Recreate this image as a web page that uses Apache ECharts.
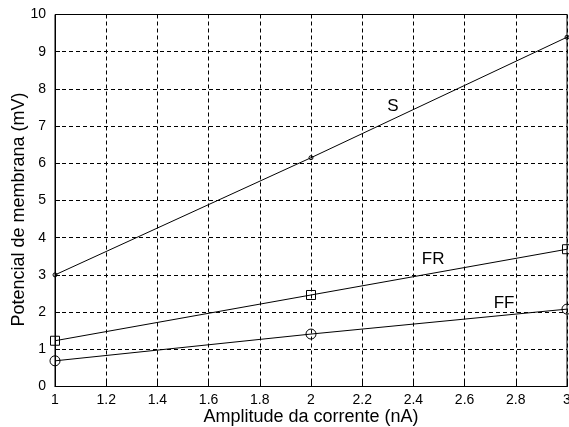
<!DOCTYPE html>
<html>
<head>
<meta charset="utf-8">
<script src="https://cdn.jsdelivr.net/npm/echarts@6/dist/echarts.min.js"></script>
<style>
  html, body { margin: 0; padding: 0; background: #fff; }
  #chart { width: 569px; height: 427px; }
</style>
</head>
<body>
<div id="chart"></div>
<script>
// Current amplitude (nA) at which membrane potential was measured
const amplitudes = [1, 2, 3];
// Membrane potential (mV) for each motor unit type
const potS  = [3.0, 6.15, 9.39];
const potFR = [1.23, 2.46, 3.69];
const potFF = [0.69, 1.41, 2.08];
// Where each curve's name is written (data coordinates)
const labelS  = [2.32, 7.54];
const labelFR = [2.477, 3.43];
const labelFF = [2.754, 2.24];

const FONT = 'Liberation Sans, Arial, sans-serif';

function pairs(ys) { return amplitudes.map((x, i) => [x, ys[i]]); }

function nameMark(name, pos) {
  return {
    symbol: 'rect',
    symbolSize: 1,
    silent: true,
    itemStyle: { color: 'rgba(0,0,0,0)', borderWidth: 0 },
    data: [{ coord: pos }],
    label: {
      show: true, position: 'inside', formatter: name,
      color: '#000', fontFamily: FONT, fontSize: 17
    }
  };
}

function curve(name, ys, symbol, size, pos) {
  return {
    name: name,
    type: 'line',
    data: pairs(ys),
    symbol: symbol,
    symbolSize: size,
    showAllSymbol: true,
    lineStyle: { color: '#000', width: 1 },
    itemStyle: { color: 'rgba(0,0,0,0)', borderColor: '#000', borderWidth: 1 },
    emphasis: { disabled: true },
    animation: false,
    clip: false,
    markPoint: nameMark(name, pos),
    z: 3
  };
}

const chart = echarts.init(document.getElementById('chart'), null, { renderer: 'canvas' });
chart.setOption({
  backgroundColor: '#fff',
  animation: false,
  grid: {
    left: 55, right: 2, top: 14.5, bottom: 40.5,
    containLabel: false, outerBoundsMode: 'none',
    show: true, borderColor: '#000', borderWidth: 1, backgroundColor: 'transparent'
  },
  xAxis: {
    type: 'value', min: 1, max: 3, interval: 0.2,
    name: 'Amplitude da corrente (nA)',
    nameLocation: 'middle', nameGap: 22, nameMoveOverlap: false,
    nameTextStyle: { color: '#000', fontFamily: FONT, fontSize: 18 },
    axisLine: { show: true, lineStyle: { color: '#000', width: 1 } },
    axisTick: { show: true, inside: true, length: 5, lineStyle: { color: '#000' } },
    axisLabel: {
      color: '#000', fontFamily: FONT, fontSize: 14, margin: 7,
      formatter: v => String(Math.round(v * 10) / 10)
    },
    splitLine: { show: true, lineStyle: { color: '#000', type: [4, 3], width: 1 } }
  },
  yAxis: {
    type: 'value', min: 0, max: 10, interval: 1,
    name: 'Potencial de membrana (mV)',
    nameLocation: 'middle', nameGap: 27, nameMoveOverlap: false,
    nameTextStyle: { color: '#000', fontFamily: FONT, fontSize: 18, padding: [0, 18, 0, 0] },
    axisLine: { show: true, lineStyle: { color: '#000', width: 1 } },
    axisTick: { show: true, inside: true, length: 5, lineStyle: { color: '#000' } },
    axisLabel: { color: '#000', fontFamily: FONT, fontSize: 14, margin: 9 },
    splitLine: { show: true, lineStyle: { color: '#000', type: [4, 3], width: 1 } }
  },
  series: [
    curve('S', potS, 'circle', 4, labelS),
    curve('FR', potFR, 'rect', 9, labelFR),
    curve('FF', potFF, 'circle', 10, labelFF)
  ]
});
</script>
</body>
</html>
